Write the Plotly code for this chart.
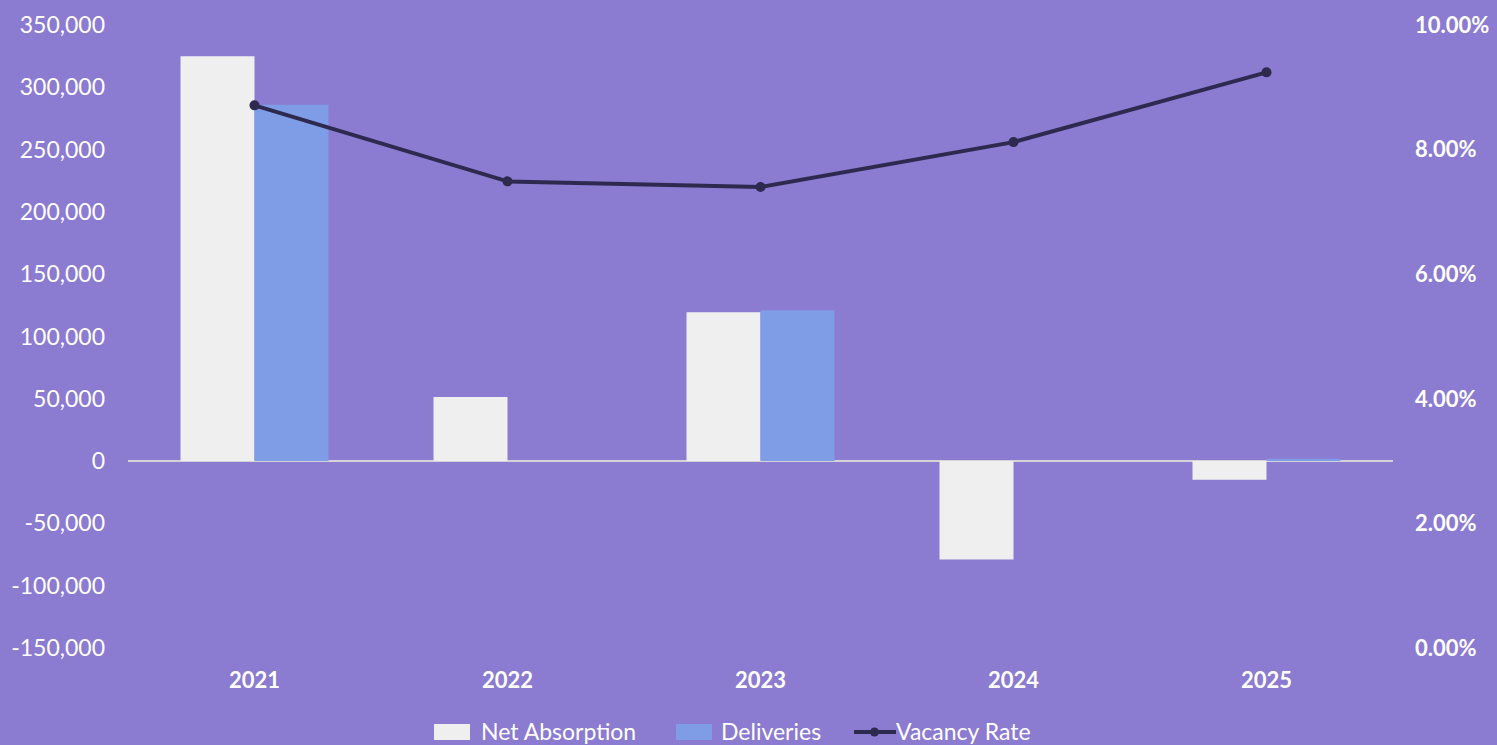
import plotly.graph_objects as go

years = ["2021", "2022", "2023", "2024", "2025"]
net_absorption = [325000, 51500, 119500, -79000, -15000]
deliveries = [286000, 0, 121000, 0, 1800]
vacancy_rate = [0.0871, 0.0749, 0.0740, 0.0812, 0.0924]

left_ticks = list(range(-150000, 350001, 50000))
left_text = [f"{v:,}".replace("\u2212", "-") for v in left_ticks]

BG = "#8B7BD1"
FONT = "Lato"
W, H = 1497, 745
ML, MR, MT, MB = 128, 104, 25, 97
NA_COLOR, DEL_COLOR, LINE_COLOR = "#EFEFEF", "#7F9CE6", "#2E2A4F"

fig = go.Figure()
fig.add_trace(go.Bar(x=years, y=net_absorption, name="Net Absorption",
                     marker=dict(color=NA_COLOR, line=dict(width=0))))
fig.add_trace(go.Bar(x=years, y=deliveries, name="Deliveries",
                     marker=dict(color=DEL_COLOR, line=dict(width=0))))
fig.add_trace(go.Scatter(x=years, y=vacancy_rate, name="Vacancy Rate", yaxis="y2",
                         mode="lines+markers",
                         line=dict(color=LINE_COLOR, width=4),
                         marker=dict(color=LINE_COLOR, size=10)))

# custom legend (pixel -> paper coordinates)
pw, ph = W - ML - MR, H - MT - MB
def px(x):
    return (x - ML) / pw
def py(y):
    return (H - MB - y) / ph

shapes = [
    dict(type="rect", xref="paper", yref="paper", x0=px(434), x1=px(470), y0=py(740), y1=py(724),
         fillcolor=NA_COLOR, line=dict(width=0)),
    dict(type="rect", xref="paper", yref="paper", x0=px(676), x1=px(712), y0=py(740), y1=py(724),
         fillcolor=DEL_COLOR, line=dict(width=0)),
    dict(type="line", xref="paper", yref="paper", x0=px(854), x1=px(896), y0=py(732), y1=py(732),
         line=dict(color=LINE_COLOR, width=4)),
    dict(type="circle", xref="paper", yref="paper", x0=px(870), x1=px(879), y0=py(736.5), y1=py(727.5),
         fillcolor=LINE_COLOR, line=dict(width=0)),
]
annotations = [
    dict(text=t, x=px(xx), y=py(731), xref="paper", yref="paper", xanchor="left", yanchor="middle",
         showarrow=False, font=dict(size=23, color="white", family=FONT))
    for t, xx in [("Net Absorption", 479), ("Deliveries", 719), ("Vacancy Rate", 894)]
]

fig.update_layout(
    width=W, height=H,
    paper_bgcolor=BG, plot_bgcolor=BG,
    margin=dict(l=ML, r=MR, t=MT, b=MB, autoexpand=False),
    barmode="group", bargap=0.415, bargroupgap=0,
    font=dict(family=FONT, color="white", size=23),
    showlegend=False,
    shapes=shapes, annotations=annotations,
    xaxis=dict(showgrid=False, showline=False, ticks="", ticklabelstandoff=17,
               tickfont=dict(size=22, family=FONT, weight="bold")),
    yaxis=dict(range=[-150000, 350000], tickvals=left_ticks, ticktext=left_text,
               showgrid=False, zeroline=True, zerolinecolor="#D4D4D8",
               zerolinewidth=2, ticks="", ticklabelstandoff=22, tickfont=dict(size=23)),
    yaxis2=dict(range=[0, 0.10], tickvals=[0, 0.02, 0.04, 0.06, 0.08, 0.10],
                tickformat=".2%", overlaying="y", side="right", showgrid=False,
                zeroline=False, ticks="", ticklabelstandoff=21,
                tickfont=dict(size=22, family=FONT, weight="bold")),
)

fig.write_html("out.html")
